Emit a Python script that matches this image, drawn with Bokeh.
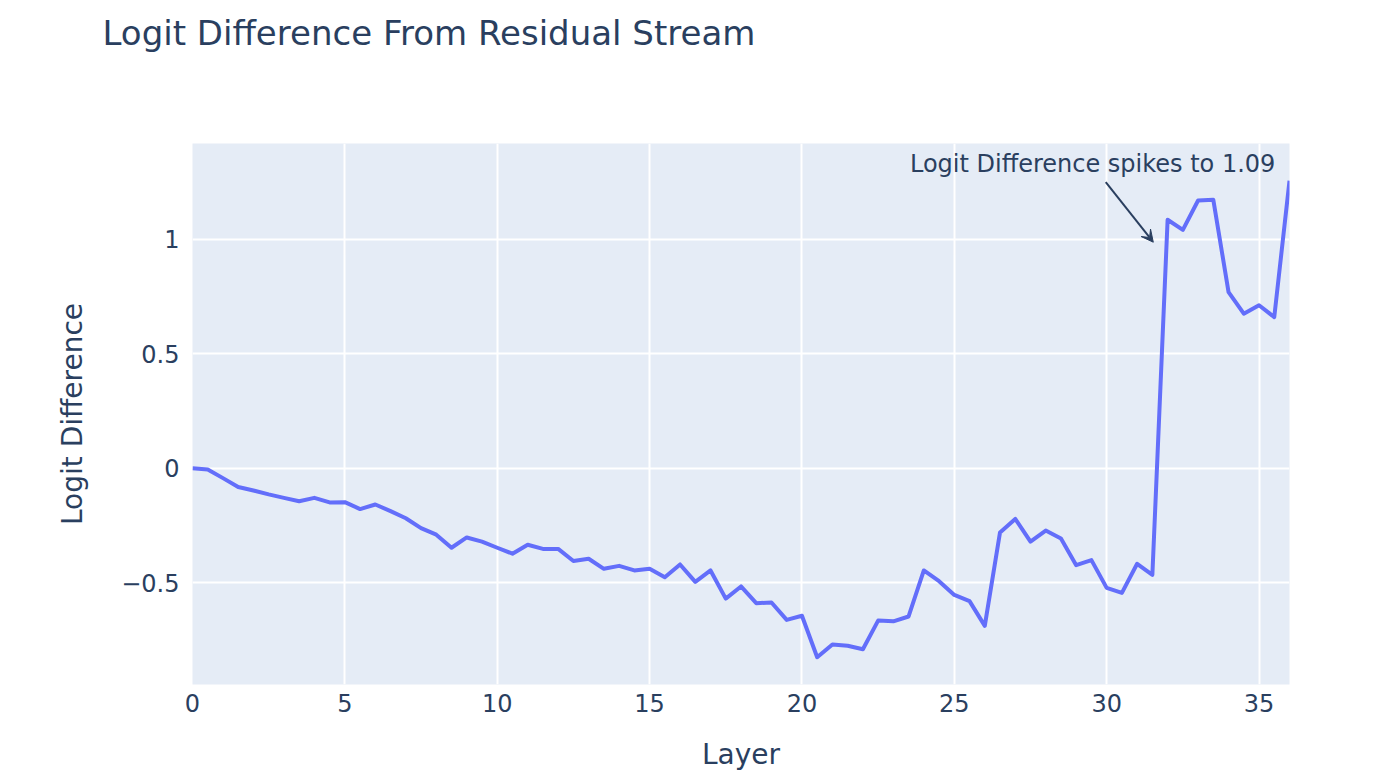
from bokeh.plotting import figure
from bokeh.models import Range1d, FixedTicker, Label, Arrow, VeeHead, Title
from bokeh.embed import file_html
from bokeh.resources import INLINE

layers = [0, 0.5, 1, 1.5, 2, 2.5, 3, 3.5, 4, 4.5, 5, 5.5, 6, 6.5, 7, 7.5, 8, 8.5, 9, 9.5,
          10, 10.5, 11, 11.5, 12, 12.5, 13, 13.5, 14, 14.5, 15, 15.5, 16, 16.5, 17, 17.5,
          18, 18.5, 19, 19.5, 20, 20.5, 21, 21.5, 22, 22.5, 23, 23.5, 24, 24.5, 25, 25.5,
          26, 26.5, 27, 27.5, 28, 28.5, 29, 29.5, 30, 30.5, 31, 31.5, 32, 32.5, 33, 33.5,
          34, 34.5, 35, 35.5, 36]
logit_diff = [0.0, -0.005, -0.043, -0.082, -0.097, -0.114, -0.129, -0.144, -0.129, -0.149,
              -0.148, -0.178, -0.158, -0.187, -0.218, -0.261, -0.29, -0.347, -0.302, -0.32,
              -0.347, -0.373, -0.334, -0.352, -0.352, -0.405, -0.395, -0.439, -0.426, -0.446,
              -0.439, -0.476, -0.42, -0.496, -0.446, -0.569, -0.516, -0.589, -0.586, -0.662,
              -0.644, -0.825, -0.769, -0.775, -0.79, -0.665, -0.668, -0.647, -0.446, -0.493,
              -0.553, -0.58, -0.688, -0.28, -0.221, -0.32, -0.272, -0.307, -0.423, -0.401,
              -0.522, -0.544, -0.417, -0.465, 1.085, 1.041, 1.169, 1.172, 0.769, 0.675,
              0.712, 0.66, 1.256]

x_ticks = [0, 5, 10, 15, 20, 25, 30, 35]
y_ticks = [-0.5, 0, 0.5, 1]
y_tick_labels = {-0.5: "\u22120.5", 0: "0", 0.5: "0.5", 1: "1"}

title_text = "Logit Difference From Residual Stream"
annot_text = "Logit Difference spikes to 1.09"
annot_tip = (31.53, 0.987)
annot_tail = (29.97, 1.249)
annot_text_pos = (29.54, 1.328)

FONT = "DejaVu Sans"
TXT = "#2a3f5f"

p = figure(width=1374, height=774, output_backend="svg", toolbar_location=None,
           x_range=Range1d(0, 36), y_range=Range1d(-0.944, 1.418),
           min_border_left=192, min_border_right=85, min_border_top=143, min_border_bottom=90)

p.title.text = ""
p.title.standoff = 0

# blank spacer panel next to the frame, then the real title above it
p.add_layout(Title(text=" ", text_font_size="10px", standoff=76), "above")
p.add_layout(Title(text=title_text, text_font=FONT, text_font_size="34px",
                   text_font_style="normal", text_color=TXT, align="left",
                   vertical_align="top", offset=-90, standoff=0), "above")

p.background_fill_color = "#E5ECF6"
p.border_fill_color = "white"
p.outline_line_color = None

p.xaxis.ticker = FixedTicker(ticks=x_ticks)
p.yaxis.ticker = FixedTicker(ticks=y_ticks)
p.yaxis.major_label_overrides = y_tick_labels

for ax in (p.xaxis, p.yaxis):
    ax.axis_line_color = None
    ax.major_tick_line_color = None
    ax.minor_tick_line_color = None
    ax.major_label_text_font = FONT
    ax.major_label_text_font_size = "24px"
    ax.major_label_text_color = TXT
    ax.axis_label_text_font = FONT
    ax.axis_label_text_font_size = "28px"
    ax.axis_label_text_font_style = "normal"
    ax.axis_label_text_color = TXT

p.xaxis.axis_label = "Layer"
p.yaxis.axis_label = "Logit Difference"
p.xaxis.major_label_standoff = 3
p.xaxis.axis_label_standoff = 23
p.yaxis.major_label_standoff = 7
p.yaxis.axis_label_standoff = 29

p.grid.grid_line_color = "white"
p.grid.grid_line_width = 2

p.line(layers, logit_diff, line_color="#636EFA", line_width=4, line_join="round")

p.add_layout(Label(x=annot_text_pos[0], y=annot_text_pos[1], text=annot_text,
                   text_font=FONT, text_font_size="24px", text_color=TXT,
                   text_align="center", text_baseline="alphabetic"))
p.add_layout(Arrow(end=VeeHead(size=12, fill_color=TXT, line_color=TXT, line_width=1),
                   x_start=annot_tail[0], y_start=annot_tail[1],
                   x_end=annot_tip[0], y_end=annot_tip[1],
                   line_color=TXT, line_width=2))

open("out.html", "w").write(file_html(p, INLINE))
